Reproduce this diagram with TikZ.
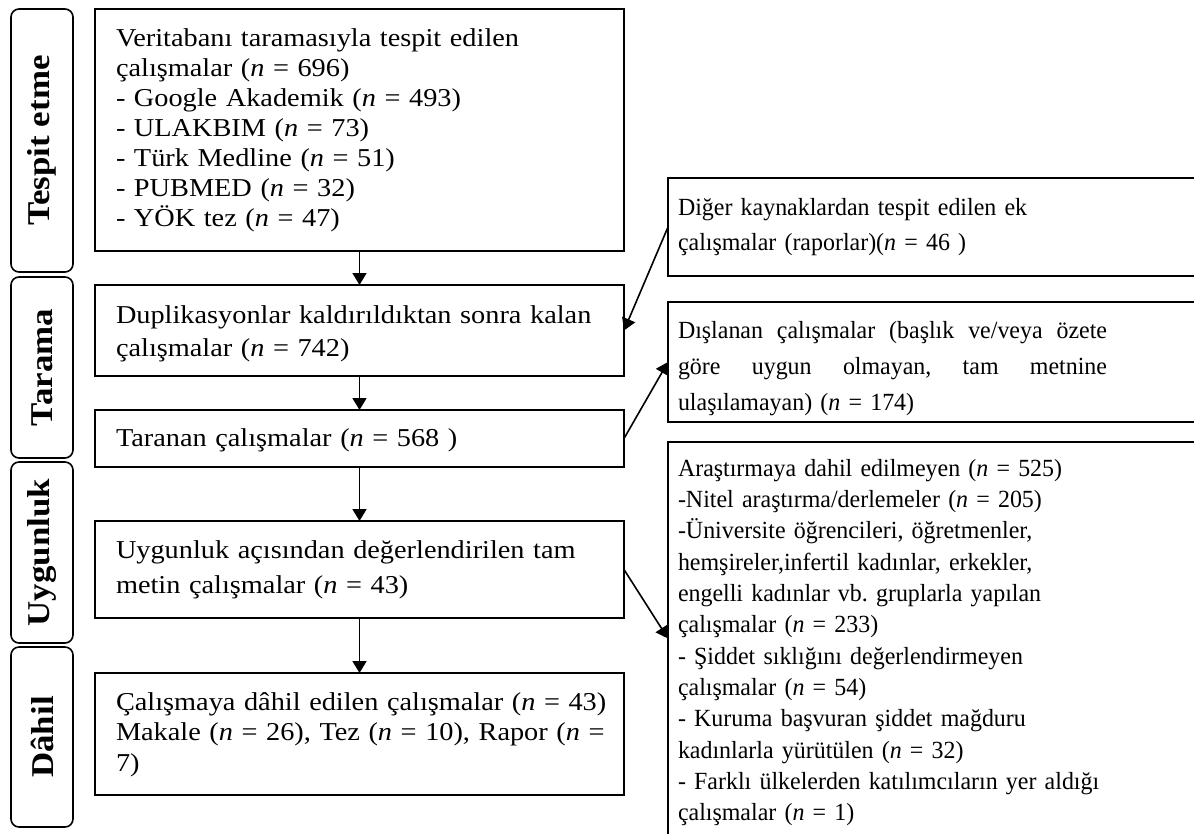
\documentclass[tikz,border=0pt]{standalone}
\usepackage{fontspec}
\setmainfont{Liberation Serif}[FakeStretch=1.1]
\newfontfamily\rfont{Liberation Serif}[FakeStretch=0.97]
\usetikzlibrary{arrows.meta,fit}
\newcommand{\nn}{\textit{n}}
\newcommand{\jline}[1]{\leavevmode\hbox to 321.75pt{#1}}
\begin{document}
\begin{tikzpicture}[x=0.75pt,y=-0.75pt,
  box/.style={draw,line width=1.2pt,inner sep=0pt,outer sep=0pt},
  stage/.style={draw,line width=1.2pt,rounded corners=6pt,inner sep=0pt,outer sep=0pt},
  stagetext/.style={rotate=90,inner sep=0pt,font=\fontsize{23.8pt}{28pt}\selectfont\bfseries},
  txt/.style={anchor=base west,inner sep=0pt,outer sep=0pt,align=left,text width=#1,
    font=\fontsize{19.3pt}{22.5pt}\selectfont},
  txt/.default=440pt,
  conn/.style={line width=1.2pt,-{Triangle[length=9pt,width=10.5pt]}},
]
\useasboundingbox (0,0) rectangle (1194,833);

% stage labels
\node[stage,fit={(11,9) (73,272)}] (s1) {};
\node[stage,fit={(11,277) (73,458)}] (s2) {};
\node[stage,fit={(11,462) (73,643)}] (s3) {};
\node[stage,fit={(11,647) (73,827)}] (s4) {};
\node[stagetext] (ls1) at (s1.center) {Tespit etme};
\node[stagetext] (ls2) at (s2.center) {Tarama};
\node[stagetext] (ls3) at (s3.center) {Uygunluk};
\node[stagetext] (ls4) at (s4.center) {Dâhil};

% main boxes
\node[box,fit={(95,9) (624,251)}] (b1) {};
\node[box,fit={(95,285) (624,376)}] (b2) {};
\node[box,fit={(95,410) (624,467)}] (b3) {};
\node[box,fit={(95,521) (624,618)}] (b4) {};
\node[box,fit={(95,673) (624,795)}] (b5) {};

% right boxes
\node[box,fit={(668,178) (1200,276)}] (r1) {};
\node[box,fit={(668,302) (1200,422)}] (r2) {};
\node[box,fit={(668,442) (1200,835)}] (r3) {};

% texts
\node[txt] (t1) at (116,46) {Veritabanı taramasıyla tespit edilen\\
çalışmalar (\nn{} = 696)\\
- Google Akademik (\nn{} = 493)\\
- ULAKBIM (\nn{} = 73)\\
- Türk Medline (\nn{} = 51)\\
- PUBMED (\nn{} = 32)\\
- YÖK tez (\nn{} = 47)};

\node[txt,font=\fontsize{19.3pt}{24.75pt}\selectfont] (t2) at (116,323) {Duplikasyonlar kaldırıldıktan sonra kalan\\
çalışmalar (\nn{} = 742)};

\node[txt] (t3) at (116,446) {Taranan çalışmalar (\nn{} = 568 )};

\node[txt,font=\fontsize{19.3pt}{26.25pt}\selectfont] (t4) at (116,558) {Uygunluk açısından değerlendirilen tam\\
metin çalışmalar (\nn{} = 43)};

\node[txt,font=\fontsize{19.3pt}{22.9pt}\selectfont] (t5) at (116,710) {Çalışmaya dâhil edilen çalışmalar (\nn{} = 43)\\
Makale (\nn{} = 26), Tez (\nn{} = 10), Rapor (\nn{} =\\
7)};

\node[txt,font=\rfont\fontsize{18.5pt}{26.25pt}\selectfont] (tr1) at (678,215) {Diğer kaynaklardan tespit edilen ek\\
çalışmalar (raporlar)(\nn{} = 46 )};

\node[txt=321.75pt,font=\rfont\fontsize{18.5pt}{27pt}\selectfont] (tr2) at (678,338) {\jline{Dışlanan\hfill çalışmalar\hfill (başlık\hfill ve/veya\hfill özete}\\
\jline{göre\hfill uygun\hfill olmayan,\hfill tam\hfill metnine}\\
ulaşılamayan) (\nn{} = 174)};

\node[txt,font=\rfont\fontsize{18.5pt}{23.5pt}\selectfont] (tr3) at (678,476) {Araştırmaya dahil edilmeyen (\nn{} = 525)\\
-Nitel araştırma/derlemeler (\nn{} = 205)\\
-Üniversite öğrencileri, öğretmenler,\\
hemşireler,infertil kadınlar, erkekler,\\
engelli kadınlar vb.\ gruplarla yapılan\\
çalışmalar (\nn{} = 233)\\
- Şiddet sıklığını değerlendirmeyen\\
çalışmalar (\nn{} = 54)\\
- Kuruma başvuran şiddet mağduru\\
kadınlarla yürütülen (\nn{} = 32)\\
- Farklı ülkelerden katılımcıların yer aldığı\\
çalışmalar (\nn{} = 1)};

% connectors
\draw[conn] (b1.south) -- (b2.north);
\draw[conn] (b2.south) -- (b3.north);
\draw[conn] (b3.south) -- (b4.north);
\draw[conn] (b4.south) -- (b5.north);
\draw[conn] (r1.west) -- (b2.east);
\draw[conn] (b3.east) -- (r2.west);
\draw[conn] (b4.east) -- (r3.west);
\end{tikzpicture}
\end{document}
